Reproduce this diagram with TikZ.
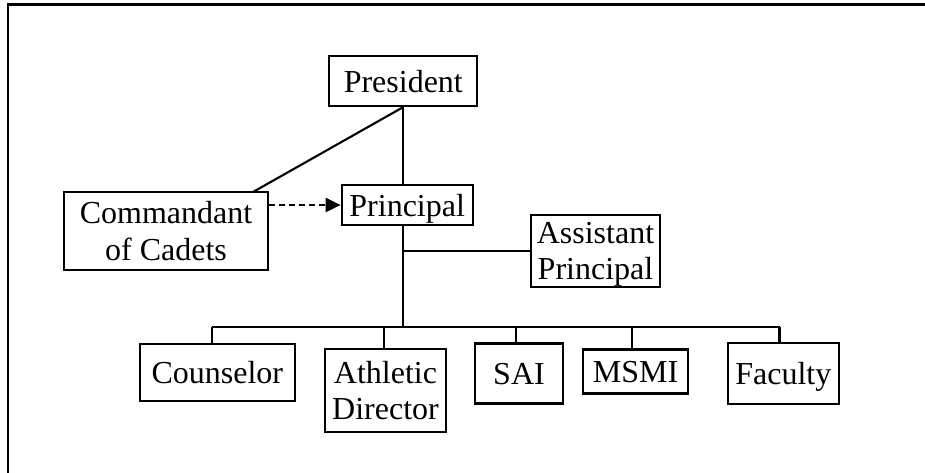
\documentclass[tikz,border=0pt]{standalone}
\usepackage{fontspec}
\setmainfont{Liberation Serif}
\usetikzlibrary{arrows.meta}
\begin{document}
\begin{tikzpicture}[x=1pt,y=-1pt,
  every node/.style={font=\fontsize{32}{36.5}\selectfont},
  orgbox/.style={draw, line width=2.1pt, inner sep=0pt, align=center, text depth=0pt},
  link/.style={line width=2.1pt},
  dashlink/.style={line width=2.1pt, dash pattern=on 6pt off 4pt, -{Triangle[length=15pt,width=14pt]}}]
\useasboundingbox (0,0) rectangle (925,473);
% frame (top and left edges)
\draw[line width=2.6pt] (925,4.8) -- (8,4.8) -- (8,473);
% boxes
\node[orgbox, minimum width=148pt, minimum height=50pt] (pres) at (403.3,81) {President};
\node[orgbox, minimum width=131pt, minimum height=40pt] (prin) at (407.2,205) {Principal};
\node[orgbox, minimum width=204pt, minimum height=78pt] (cmd) at (166,231) {Commandant\\of Cadets};
\node[orgbox, minimum width=129pt, minimum height=72pt] (asst) at (595.5,251) {Assistant\\Principal};
\node[orgbox, minimum width=155pt, minimum height=57pt] (cou) at (217.3,372.2) {Counselor};
\node[orgbox, minimum width=121pt, minimum height=83pt] (ath) at (385.5,390.5) {Athletic\\Director};
\node[orgbox, minimum width=88pt, minimum height=60pt] (sai) at (519,373.5) {SAI};
\node[orgbox, minimum width=105pt, minimum height=44pt] (msmi) at (635.5,371.5) {MSMI};
\node[orgbox, minimum width=111pt, minimum height=61pt] (fac) at (783.3,373.5) {Faculty};
% helper coordinates
\coordinate (cmdtop) at (253,192);
\coordinate (b1) at (212,327);
\coordinate (b2) at (384,327);
\coordinate (b3) at (516,327);
\coordinate (b4) at (632,327);
\coordinate (b5) at (779.5,327);
% connectors
\draw[link] (pres.south) -- (pres.south |- prin.north);
\draw[link] (pres.south) -- (cmdtop);
\draw[dashlink] (cmd.east |- prin.west) -- (prin.west);
\draw[link] (pres.south |- prin.south) -- (pres.south |- b1);
\draw[link] (pres.south |- asst.west) -- (asst.west);
\draw[link] (b1) -- (b5);
\draw[link] (b1) -- (b1 |- cou.north);
\draw[link] (b2) -- (b2 |- ath.north);
\draw[link] (b3) -- (b3 |- sai.north);
\draw[link] (b4) -- (b4 |- msmi.north);
\draw[link] (b5) -- (b5 |- fac.north);
\end{tikzpicture}
\end{document}
